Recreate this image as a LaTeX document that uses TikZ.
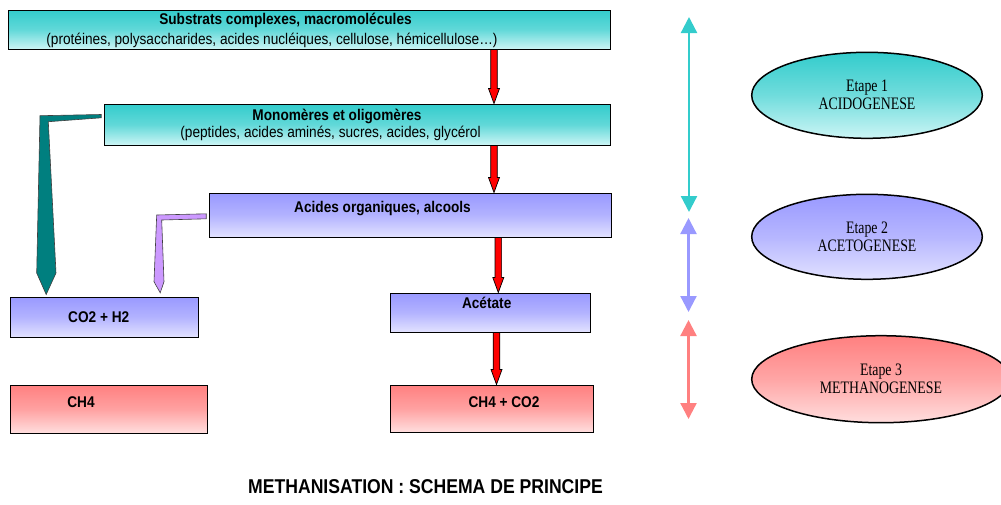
\documentclass[tikz,border=0pt]{standalone}
\usepackage{fontspec}
\newfontfamily\sfn{Liberation Sans}[FakeStretch=0.88]
\newfontfamily\rmn{Liberation Serif}[FakeStretch=0.79]
\usetikzlibrary{shapes.geometric,arrows.meta,calc}
\definecolor{tealA}{HTML}{33CCCC}
\definecolor{tealB}{HTML}{CCF5F5}
\definecolor{blueA}{HTML}{9999FF}
\definecolor{blueB}{HTML}{E2E2FF}
\definecolor{pinkA}{HTML}{FF8080}
\definecolor{pinkB}{HTML}{FFDEDE}
\definecolor{darkteal}{HTML}{007F7F}
\definecolor{lilac}{HTML}{CC99FF}
\tikzset{
  box/.style={draw=black, line width=1pt, rectangle, inner sep=0pt},
  tealbox/.style={box, top color=tealA, bottom color=tealB, middle color=tealA!70!tealB},
  bluebox/.style={box, top color=blueA, bottom color=blueB, middle color=blueA!65!blueB},
  pinkbox/.style={box, top color=pinkA, bottom color=pinkB, middle color=pinkA!65!pinkB},
  oval/.style={ellipse, draw=black, line width=1.5pt, inner sep=0pt, align=center,
    font=\rmn\fontsize{17.5}{18}\selectfont},
  tealoval/.style={oval, top color=tealA, bottom color=tealB, middle color=tealA!60!tealB},
  blueoval/.style={oval, top color=blueA, bottom color=blueB, middle color=blueA!60!blueB},
  pinkoval/.style={oval, top color=pinkA, bottom color=pinkB, middle color=pinkA!60!pinkB},
  lbl/.style={font=\sfn\fontsize{15.5}{19}\selectfont\bfseries, inner sep=0pt},
  sublbl/.style={font=\sfn\fontsize{15.5}{19}\selectfont, inner sep=0pt},
  redarrow/.style={draw=black, fill=red, line width=0.7pt, line join=miter},
  dbl/.style={line width=2.3pt, {Triangle[width=16pt,length=16pt]}-{Triangle[width=16pt,length=16pt]}},
}
\newcommand\redarr[3]{%
  \coordinate (ra) at (#2.south -| #1);
  \coordinate (rb) at (#3.north -| #1);
  \draw[redarrow] ($(ra)+(-3.3,0)$) -- ($(ra)+(3.3,0)$) -- ($(rb)+(3.3,-15)$)
    -- ($(rb)+(5.5,-15)$) -- (rb) -- ($(rb)+(-5.5,-15)$) -- ($(rb)+(-3.3,-15)$) -- cycle;}
\begin{document}
\begin{tikzpicture}[x=1pt,y=-1pt]
\path[use as bounding box] (0,0) rectangle (1001,504);

% boxes
\node[tealbox, minimum width=602, minimum height=39] (b1) at (309,29.5) {};
\node[tealbox, minimum width=506, minimum height=41] (b2) at (357,124.5) {};
\node[bluebox, minimum width=402, minimum height=44] (b3) at (410,215) {};
\node[bluebox, minimum width=200, minimum height=39] (b4) at (490,312.5) {};
\node[pinkbox, minimum width=203, minimum height=47] (b5) at (491.5,408.5) {};
\node[bluebox, minimum width=188, minimum height=40] (b6) at (104,317) {};
\node[pinkbox, minimum width=197, minimum height=48] (b7) at (108.5,409) {};

% texts
\node[lbl] (t1a) at (285.5,20.5) {Substrats complexes, macromolécules};
\node[sublbl] (t1b) at (272,40) {(protéines, polysaccharides, acides nucléiques, cellulose, hémicellulose…)};
\node[lbl] (t2a) at (337,116.5) {Monomères et oligomères};
\node[sublbl] (t2b) at (330.5,133.5) {(peptides, acides aminés, sucres, acides, glycérol};
\node[lbl] (t3) at (382.5,209) {Acides organiques, alcools};
\node[lbl] (t4) at (486.7,302.5) {Acétate};
\node[lbl] (t5) at (504,402) {CH4 + CO2};
\node[lbl] (t6) at (98.7,316.7) {CO2 + H2};
\node[lbl] (t7) at (81,401.7) {CH4};
\node[font=\sfn\fontsize{20}{24}\selectfont\bfseries, inner sep=0pt] (title) at (425.5,487) {METHANISATION : SCHEMA DE PRINCIPE};

% red arrows
\coordinate (xa) at (494,0);
\coordinate (xb) at (498.3,0);
\coordinate (xc) at (496.5,0);
\redarr{xa}{b1}{b2}
\redarr{xa}{b2}{b3}
\redarr{xb}{b3}{b4}
\redarr{xc}{b4}{b5}

% bent arrows
\coordinate (ts) at ($(b2.north west)+(-2.3,11)$);
\coordinate (tt) at ($(b6.north west)+(36.7,-2)$);
\draw[fill=darkteal, draw=black!75, line width=0.6pt, line join=miter]
  ($(ts)$) -- (40,115.7) -- (36.7,273) -- (tt) -- (56,273) -- (48.3,121.7) -- ($(ts)+(0,3.3)$) -- cycle;
\coordinate (ls) at ($(b3.north west)+(-2.3,21.3)$);
\coordinate (lt) at ($(b6.north west)+(150.7,-3.7)$);
\draw[fill=lilac, draw=black!75, line width=0.6pt, line join=miter]
  (ls) -- (156.7,215) -- (154,281.7) -- (lt) -- (164,281.7) -- (161.7,220) -- ($(ls)+(0,5)$) -- cycle;

% stage double arrows
\coordinate (d1a) at (689,17);
\coordinate (d1b) at (689,212);
\coordinate (d2a) at (688.5,218);
\coordinate (d2b) at (688.5,312);
\coordinate (d3a) at (688.5,320);
\coordinate (d3b) at (688.5,419);
\draw[dbl, tealA] (d1a) -- (d1b);
\draw[dbl, blueA] (d2a) -- (d2b);
\draw[dbl, pinkA] (d3a) -- (d3b);

% ellipses
\node[tealoval, minimum width=230.6, minimum height=86] (e1) at (867,95.3) {Etape 1\\ACIDOGENESE};
\node[blueoval, minimum width=230.6, minimum height=85] (e2) at (867,236.8) {Etape 2\\ACETOGENESE};
\node[pinkoval, minimum width=258.6, minimum height=87] (e3) at (881,379.2) {Etape 3\\METHANOGENESE};
\end{tikzpicture}
\end{document}
